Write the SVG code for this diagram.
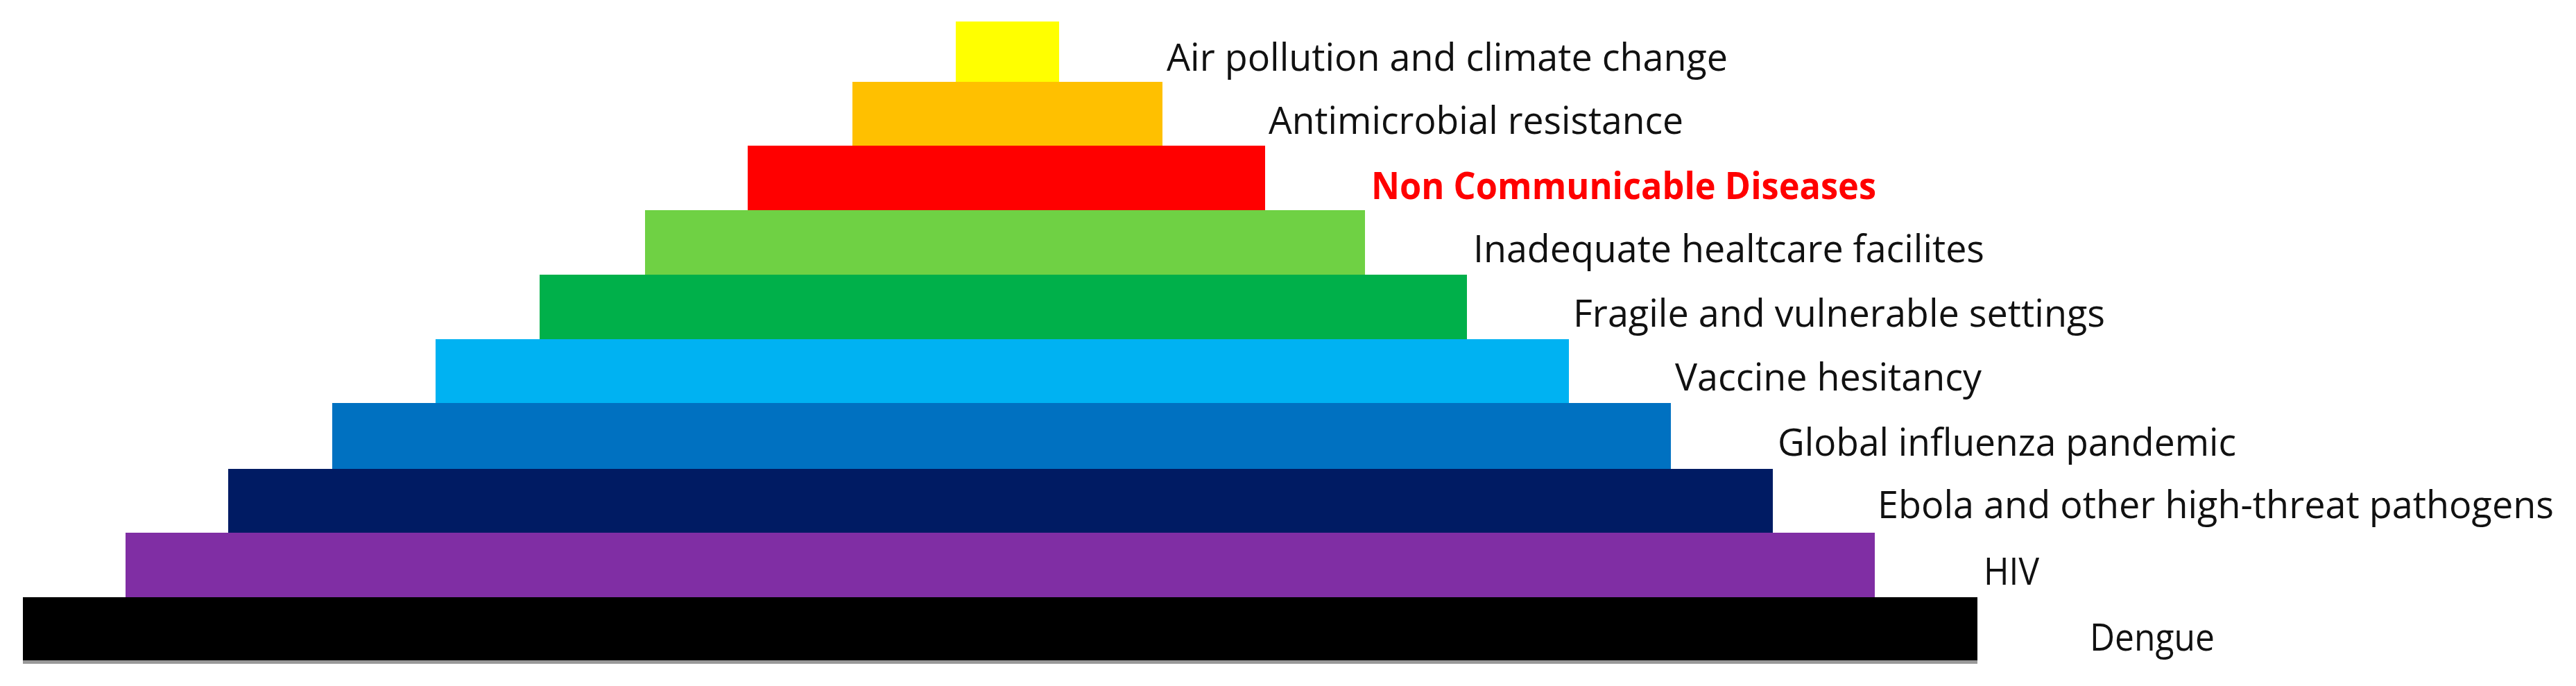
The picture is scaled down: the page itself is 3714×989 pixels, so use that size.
<svg xmlns="http://www.w3.org/2000/svg" width="3714" height="989" viewBox="0 0 3714 989">
<style>
.lbl{font-family:"Open Sans","Liberation Sans",sans-serif;font-size:54px;fill:#111}
.hot{font-weight:bold;fill:#ff0000}
</style>
<rect x="0" y="0" width="3714" height="989" fill="#ffffff"/>
<g id="air-pollution"><rect x="1378" y="31" width="149" height="87" fill="#ffff00"/><text class="lbl" x="1682" y="102" textLength="809" lengthAdjust="spacingAndGlyphs">Air pollution and climate change</text></g>
<g id="antimicrobial"><rect x="1229" y="118" width="447" height="92" fill="#ffc000"/><text class="lbl" x="1829" y="193" textLength="598" lengthAdjust="spacingAndGlyphs">Antimicrobial resistance</text></g>
<g id="ncd"><rect x="1078" y="210" width="746" height="93" fill="#ff0000"/><text class="lbl hot" x="1977" y="287" textLength="728" lengthAdjust="spacingAndGlyphs">Non Communicable Diseases</text></g>
<g id="healthcare"><rect x="930" y="303" width="1038" height="93" fill="#6fd144"/><text class="lbl" x="2124" y="378" textLength="737" lengthAdjust="spacingAndGlyphs">Inadequate healtcare facilites</text></g>
<g id="fragile"><rect x="778" y="396" width="1337" height="93" fill="#00b04a"/><text class="lbl" x="2268" y="471" textLength="767" lengthAdjust="spacingAndGlyphs">Fragile and vulnerable settings</text></g>
<g id="vaccine"><rect x="628" y="489" width="1634" height="92" fill="#00b2f2"/><text class="lbl" x="2415" y="563" textLength="442" lengthAdjust="spacingAndGlyphs">Vaccine hesitancy</text></g>
<g id="influenza"><rect x="479" y="581" width="1930" height="95" fill="#0071c1"/><text class="lbl" x="2563" y="657" textLength="661" lengthAdjust="spacingAndGlyphs">Global influenza pandemic</text></g>
<g id="ebola"><rect x="329" y="676" width="2227" height="92" fill="#001b63"/><text class="lbl" x="2707" y="747" textLength="975" lengthAdjust="spacingAndGlyphs">Ebola and other high-threat pathogens</text></g>
<g id="hiv"><rect x="181" y="768" width="2522" height="93" fill="#802ea4"/><text class="lbl" x="2860" y="843" textLength="80" lengthAdjust="spacingAndGlyphs">HIV</text></g>
<g id="dengue"><rect x="33" y="952" width="2818" height="5" fill="#999999"/><rect x="33" y="861" width="2818" height="91" fill="#000000"/><text class="lbl" x="3013" y="938" textLength="180" lengthAdjust="spacingAndGlyphs">Dengue</text></g>
<g id="connectors"/>
</svg>
